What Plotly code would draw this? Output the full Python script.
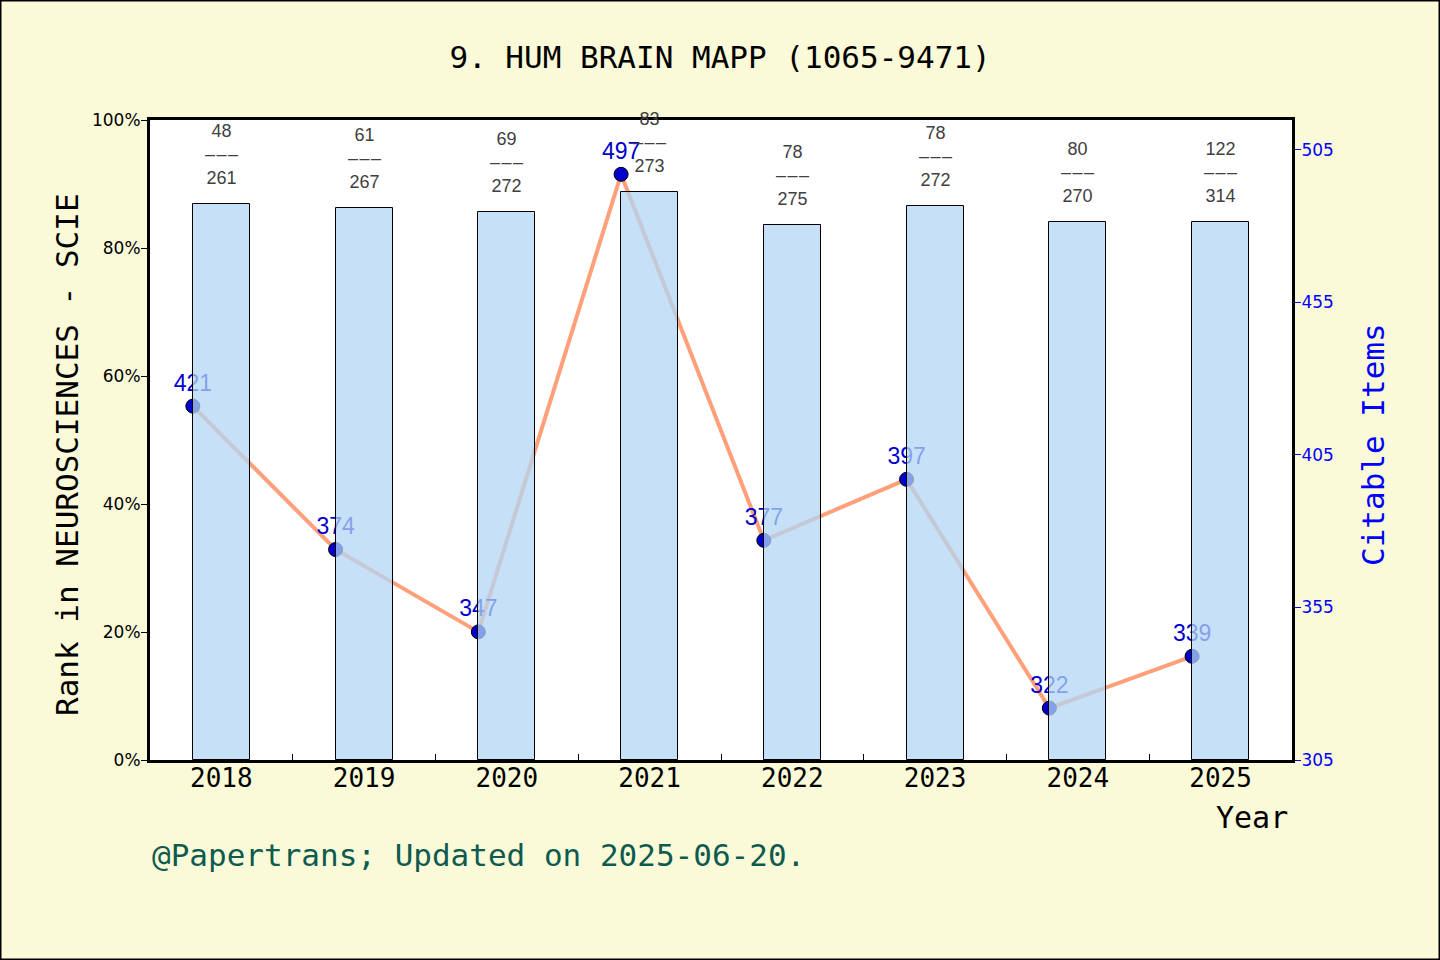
import plotly.graph_objects as go

years = ["2018", "2019", "2020", "2021", "2022", "2023", "2024", "2025"]
rank_pct = [0.868, 0.863, 0.857, 0.888, 0.836, 0.865, 0.840, 0.840]
rank_num = [48, 61, 69, 83, 78, 78, 80, 122]
cat_total = [261, 267, 272, 273, 275, 272, 270, 314]
citable = [421, 374, 347, 497, 377, 397, 322, 339]

W, H = 1440, 960
ML, MR, MT, MB = 150, 148, 120, 200
PW = W - ML - MR
PH = H - MT - MB

idx = list(range(len(years)))
line_x = [i - 0.2 for i in idx]

MONO = "DejaVu Sans Mono"
SANS = "Liberation Sans"
DASH = "\u2013\u200a\u2013\u200a\u2013"

fig = go.Figure()

fig.add_trace(go.Scatter(
    x=line_x, y=citable, yaxis="y",
    mode="lines+markers+text",
    line=dict(color="#FFA07A", width=4),
    marker=dict(size=14, color="#0000CD", line=dict(color="black", width=1)),
    text=[str(v) for v in citable],
    textposition="top center",
    textfont=dict(family=SANS, size=23, color="#0000CD"),
    showlegend=False, cliponaxis=False,
))

fig.add_trace(go.Bar(
    x=idx, y=rank_pct, yaxis="y2", width=0.4,
    marker=dict(color="rgba(178,214,244,0.75)", line=dict(color="black", width=1)),
    showlegend=False,
))

annotations = []
for i, (v, r, t) in enumerate(zip(rank_pct, rank_num, cat_total)):
    annotations.append(dict(
        x=i, y=v, xref="x", yref="y2",
        text=f"{r}<br>{DASH}<br>{t}", showarrow=False,
        yanchor="bottom", xanchor="center", yshift=14,
        font=dict(family=SANS, size=18, color="#404040"),
    ))

annotations += [
    dict(text="Rank in NEUROSCIENCES - SCIE", xref="paper", yref="paper",
         x=(67 - ML) / PW, y=(760 - 455) / PH, xanchor="center", yanchor="middle",
         textangle=-90, showarrow=False, font=dict(family=MONO, size=31, color="black")),
    dict(text="Citable Items", xref="paper", yref="paper",
         x=(1373 - ML) / PW, y=(760 - 445) / PH, xanchor="center", yanchor="middle",
         textangle=-90, showarrow=False, font=dict(family=MONO, size=31, color="#0000FF")),
    dict(text="Year", xref="paper", yref="paper",
         x=(1290 - ML) / PW, y=(760 - 817) / PH, xanchor="right", yanchor="middle",
         showarrow=False, font=dict(family=MONO, size=30, color="black")),
    dict(text="@Papertrans; Updated on 2025-06-20.", xref="paper", yref="paper",
         x=(150 - ML) / PW, y=(760 - 855) / PH, xanchor="left", yanchor="middle",
         showarrow=False, font=dict(family=MONO, size=31, color="#0E5A4E")),
]

fig.update_layout(
    width=W, height=H,
    margin=dict(l=ML, r=MR, t=MT, b=MB),
    paper_bgcolor="#FAFAD8",
    plot_bgcolor="white",
    title=dict(text="9. HUM BRAIN MAPP (1065-9471)", x=(720 - ML) / PW, xref="paper",
               xanchor="center", y=1 - 57 / H, yanchor="middle",
               font=dict(family=MONO, size=31, color="black")),
    xaxis=dict(range=[-0.5, 7.5], tickvals=idx, ticktext=years, ticks="",
               showline=True, linecolor="black", linewidth=3, mirror=True,
               showgrid=False, zeroline=False, ticklabelstandoff=-7,
               tickfont=dict(family=MONO, size=26, color="black"),
               minor=dict(tickvals=[i + 0.5 for i in idx[:-1]], ticks="inside",
                          ticklen=6, tickcolor="black", tickwidth=1, showgrid=False)),
    yaxis=dict(side="right", range=[305, 514.8], tickvals=[305, 355, 405, 455, 505],
               ticks="outside", ticklen=6, tickcolor="#0000FF",
               tickfont=dict(family="DejaVu Sans", size=17, color="#0000FF"),
               ticklabelstandoff=-3,
               showline=True, linecolor="black", linewidth=3,
               showgrid=False, zeroline=False),
    yaxis2=dict(side="left", overlaying="y", range=[0, 1], tickformat=".0%",
                tickvals=[0, 0.2, 0.4, 0.6, 0.8, 1.0],
                ticks="outside", ticklen=6, tickcolor="black",
                tickfont=dict(family="DejaVu Sans", size=17, color="black"),
                ticklabelstandoff=-3,
                showline=True, linecolor="black", linewidth=3,
                showgrid=False, zeroline=False),
    annotations=annotations,
    bargap=0,
    shapes=[dict(type="rect", xref="paper", yref="paper",
                 x0=-ML / PW, x1=1 + MR / PW, y0=-MB / PH, y1=1 + MT / PH,
                 line=dict(color="black", width=3), layer="above")],
)

fig.write_html("out.html")
